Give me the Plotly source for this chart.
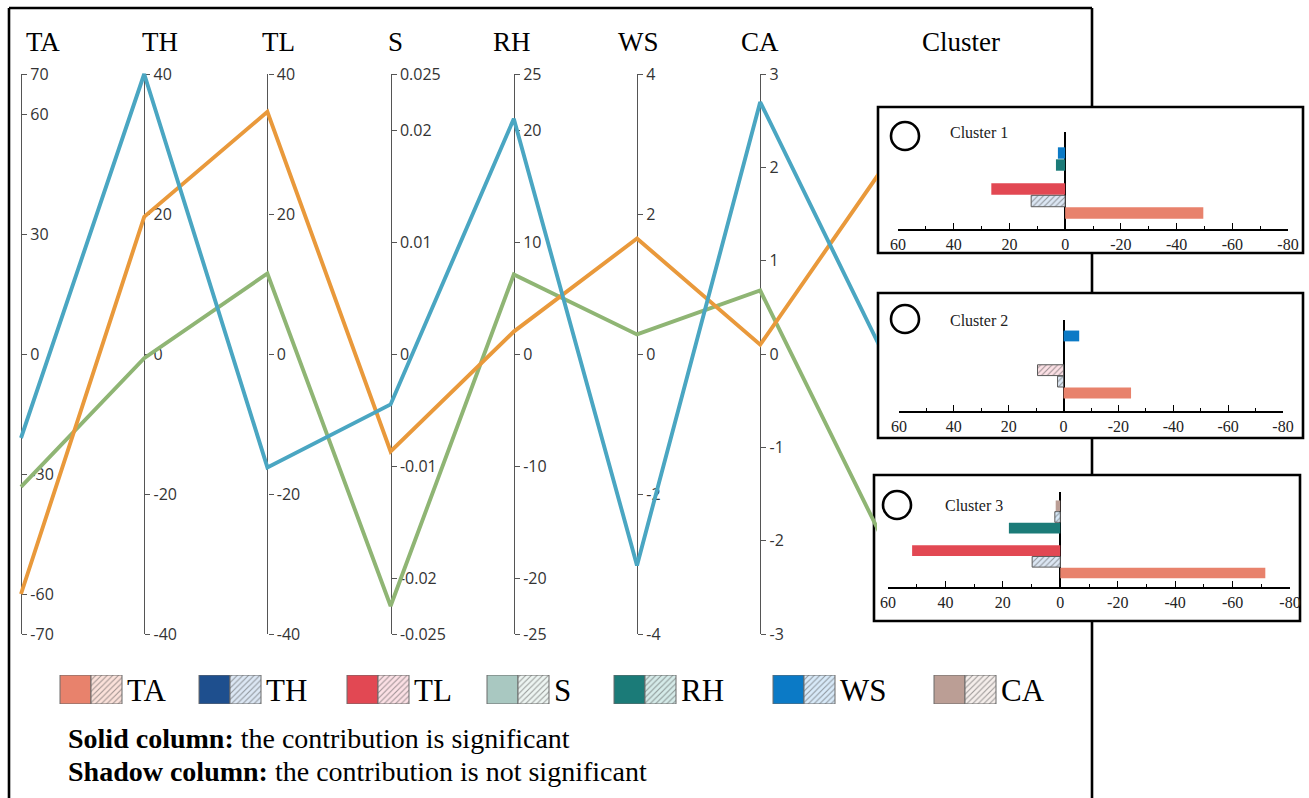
import plotly.graph_objects as go

W, H = 1309, 798

# ---------------- data ----------------
AXES = ["TA", "TH", "TL", "S", "RH", "WS", "CA"]
AXIS_MIN = [-70, -40, -40, -0.025, -25, -4, -3]
AXIS_MAX = [70, 40, 40, 0.025, 25, 4, 3]
AXIS_TICKS = [
    [-70, -60, -30, 0, 30, 60, 70],
    [-40, -20, 0, 20, 40],
    [-40, -20, 0, 20, 40],
    [-0.025, -0.02, -0.01, 0, 0.01, 0.02, 0.025],
    [-25, -20, -10, 0, 10, 20, 25],
    [-4, -2, 0, 2, 4],
    [-3, -2, -1, 0, 1, 2, 3],
]
CLUSTERS = ["Cluster 1", "Cluster 2", "Cluster 3"]
CLUSTER_CODE = [1, 2, 3]
CLUSTER_AXIS_BOTTOM, CLUSTER_AXIS_TOP = 3.5, 0.5   # hidden "Cluster" axis

PROFILE_C1 = [-60, 19.6, 34.6, -0.0087, 2.0, 1.65, 0.10]
PROFILE_C2 = [-21, 40, -16.2, -0.0045, 21.0, -3.02, 2.70]
PROFILE_C3 = [-33.2, -0.6, 11.5, -0.0225, 7.1, 0.28, 0.68]
LINE_COLORS = ["#E9993B", "#4AA6C2", "#8FB574"]

# contributions shown in the cluster insets (None = no bar)
CONTRIB_C1 = [-49.6, 12.2, 26.5, None, 3.3, 2.6, None]
SIG_C1 = [1, 0, 1, 0, 1, 1, 0]
CONTRIB_C2 = [-24.6, 2.2, 9.5, None, None, -5.7, None]
SIG_C2 = [1, 0, 0, 0, 0, 1, 0]
CONTRIB_C3 = [-71.4, 9.8, 51.6, None, 17.9, 1.9, 1.6]
SIG_C3 = [1, 0, 1, 0, 1, 0, 1]
INSET_TICKS = [60, 40, 20, 0, -20, -40, -60, -80]

SOLID = ["#E8826C", "#1E4F8E", "#E24853", "#A9C8C1", "#1B7B78", "#0B7AC6", "#BB9E95"]
HATCH_BG = ["#FBE1DA", "#DCE7F4", "#FCE0E5", "#EDF5F2", "#D5EBE9", "#D8EAF9", "#F5EEEB"]
HATCH_FG = ["#E29884", "#6E92C6", "#EA8E98", "#A3C6BD", "#68B0AC", "#6FADE0", "#C7B4AD"]

SIG_TEXT = "<b>Solid column:</b> the contribution is significant"
NS_TEXT = "<b>Shadow column:</b> the contribution is not significant"

# ---------------- layout geometry (pixels) ----------------
def px(x):
    return x / W


def py(y):
    return 1 - y / H


AX_X0, AX_DX = 21, 123.2          # first parallel axis, spacing
AX_TOP, AX_BOT = 74, 634          # axis extent
LINE_RIGHT = 877                  # lines vanish under the inset frames
SERIF = "Liberation Serif"
SANS = "Open Sans"

fig = go.Figure()

# base subplot (carries the parallel axes as overlays)
fig.add_trace(go.Scatter(x=[None], y=[None], xaxis="x", yaxis="y",
                         showlegend=False, hoverinfo="skip"))
for i in range(len(AXES)):
    fig.add_trace(go.Scatter(x=[None], y=[None], xaxis="x", yaxis=f"y{i + 2}",
                             showlegend=False, hoverinfo="skip"))

# --------------- parallel coordinate lines ---------------
def normalise(vals, cid):
    out = [(v - lo) / (hi - lo) for v, lo, hi in zip(vals, AXIS_MIN, AXIS_MAX)]
    out.append((cid - CLUSTER_AXIS_BOTTOM) / (CLUSTER_AXIS_TOP - CLUSTER_AXIS_BOTTOM))
    return out


profiles = [PROFILE_C1, PROFILE_C2, PROFILE_C3]
for k in [2, 0, 1]:
    fig.add_trace(go.Scatter(
        x=list(range(len(AXES) + 1)),
        y=normalise(profiles[k], CLUSTER_CODE[k]),
        mode="lines", line=dict(color=LINE_COLORS[k], width=3.9),
        xaxis="x2", yaxis="y9", showlegend=False, hoverinfo="skip"))

layout = dict(
    width=W, height=H,
    margin=dict(l=0, r=0, t=0, b=0, pad=0, autoexpand=False),
    paper_bgcolor="white", plot_bgcolor="rgba(0,0,0,0)",
    barmode="overlay", showlegend=False,
    xaxis=dict(domain=[px(AX_X0), px(LINE_RIGHT)], range=[0, 7], visible=False, fixedrange=True),
    yaxis=dict(domain=[py(AX_BOT), py(AX_TOP)], range=[0, 1], visible=False, fixedrange=True),
    xaxis2=dict(domain=[px(8), px(LINE_RIGHT)], anchor="y9",
                range=[(8 - AX_X0) / AX_DX, (LINE_RIGHT - AX_X0) / AX_DX],
                visible=False, fixedrange=True),
    yaxis9=dict(domain=[py(650), py(58)], anchor="x2",
                range=[-(650 - AX_BOT) / (AX_BOT - AX_TOP), 1 + (AX_TOP - 58) / (AX_BOT - AX_TOP)],
                visible=False, fixedrange=True),
)

for i, name in enumerate(AXES):
    layout[f"yaxis{i + 2}"] = dict(
        overlaying="y", anchor="free", position=px(AX_X0 + i * AX_DX), side="right",
        range=[AXIS_MIN[i], AXIS_MAX[i]], autorange=False, tickmode="array",
        tickvals=AXIS_TICKS[i], ticktext=[f"{v:g}" for v in AXIS_TICKS[i]],
        ticks="outside", ticklen=5, tickwidth=1.2, tickcolor="#555",
        showline=True, linecolor="#555", linewidth=1.3, visible=True,
        showgrid=False, zeroline=False, layer="below traces", fixedrange=True,
        automargin=False,
        tickfont=dict(family=SANS, size=16, color="#333"))

# --------------- cluster insets ---------------
INSET_BOX = [(878, 107, 1303, 253), (878, 293, 1303, 438), (874, 475, 1300, 621)]
INSET_X = [(898, 1288), (899, 1283), (888, 1290)]
INSET_Y = [(229, 132), (411, 320), (587, 492)]
INSET_YR = [(-1.33, 6.75), (-1.58, 6.4), (-1.25, 7.23)]
CIRCLE = [(905, 136), (905, 319), (897, 505)]
LABEL = [(948, 133), (948, 320), (943, 505)]
contribs = [CONTRIB_C1, CONTRIB_C2, CONTRIB_C3]
sigs = [SIG_C1, SIG_C2, SIG_C3]

HATCH = dict(shape="/", fgcolor=HATCH_FG, size=4, solidity=0.28, fillmode="overlay")

shapes = []
annotations = []

# main frame
for (x0, y0, x1, y1) in [(9, 8, 9, 800), (9, 8, 1092, 8), (1092, 8, 1092, 800)]:
    shapes.append(dict(type="line", xref="paper", yref="paper", layer="below",
                       x0=px(x0), y0=py(y0), x1=px(x1), y1=py(y1),
                       line=dict(color="black", width=2.6)))

for k in range(3):
    xa, ya = f"x{k + 3}", f"y{k + 10}"
    vals, sg = contribs[k], sigs[k]
    fig.add_trace(go.Bar(
        y=AXES, x=[v if s else None for v, s in zip(vals, sg)], orientation="h",
        width=0.95, marker=dict(color=SOLID, line=dict(width=0)),
        xaxis=xa, yaxis=ya, hoverinfo="skip"))
    fig.add_trace(go.Bar(
        y=AXES, x=[None if s else v for v, s in zip(vals, sg)], orientation="h",
        width=0.95,
        marker=dict(color=HATCH_BG, line=dict(width=1, color="#5a5a5a"), pattern=HATCH),
        xaxis=xa, yaxis=ya, hoverinfo="skip"))
    layout[f"xaxis{k + 3}"] = dict(
        domain=[px(INSET_X[k][0]), px(INSET_X[k][1])], anchor=ya, range=[60, -80],
        tickmode="array", tickvals=INSET_TICKS, ticktext=[f"{v:g}" for v in INSET_TICKS],
        ticks="inside", ticklen=6, tickwidth=1.3, tickcolor="black",
        minor=dict(tickmode="linear", tick0=0, dtick=10, ticks="inside", ticklen=3,
                   tickwidth=1.2, tickcolor="black"),
        showline=True, linecolor="black", linewidth=1.5, showgrid=False,
        zeroline=True, zerolinecolor="black", zerolinewidth=1.6, fixedrange=True,
        automargin=False,
        tickfont=dict(family=SERIF, size=16, color="#222"))
    layout[f"yaxis{k + 10}"] = dict(
        domain=[py(INSET_Y[k][0]), py(INSET_Y[k][1])], anchor=xa, type="category",
        categoryorder="array", categoryarray=AXES, range=list(INSET_YR[k]),
        visible=False, fixedrange=True)
    x0, y0, x1, y1 = INSET_BOX[k]
    shapes.append(dict(type="rect", xref="paper", yref="paper", layer="below",
                       x0=px(x0), y0=py(y0), x1=px(x1), y1=py(y1), fillcolor="white",
                       line=dict(color="black", width=2.6)))
    cx, cy = CIRCLE[k]
    shapes.append(dict(type="circle", xref="paper", yref="paper", layer="above",
                       x0=px(cx - 14), y0=py(cy + 14), x1=px(cx + 14), y1=py(cy - 14),
                       line=dict(color="black", width=2.6)))
    lx, ly = LABEL[k]
    annotations.append(dict(text=CLUSTERS[k], xref="paper", yref="paper", x=px(lx), y=py(ly),
                            xanchor="left", yanchor="middle", showarrow=False,
                            font=dict(family=SERIF, size=16, color="#222")))

# --------------- axis headers ---------------
HEAD_X = [43, 160, 278, 395, 512, 638, 760, 961]
for name, hx in zip(AXES + ["Cluster"], HEAD_X):
    annotations.append(dict(text=name, xref="paper", yref="paper", x=px(hx), y=py(42),
                            xanchor="center", yanchor="middle", showarrow=False,
                            font=dict(family=SERIF, size=27, color="black")))

# --------------- legend (solid / hatched swatches) ---------------
LEG_X = [60, 199, 347, 487, 614, 773, 934]
SW = 31
fig.add_trace(go.Bar(x=[lx + SW / 2 for lx in LEG_X], y=[1] * len(AXES), width=SW,
                     marker=dict(color=SOLID, line=dict(width=1, color="#6b6b6b")),
                     xaxis="x6", yaxis="y13", hoverinfo="skip"))
fig.add_trace(go.Bar(x=[lx + SW * 1.5 for lx in LEG_X], y=[1] * len(AXES), width=SW,
                     marker=dict(color=HATCH_BG, line=dict(width=1, color="#6b6b6b"),
                                 pattern=HATCH),
                     xaxis="x6", yaxis="y13", hoverinfo="skip"))
layout["xaxis6"] = dict(domain=[0, 1], range=[0, W], anchor="y13", visible=False, fixedrange=True)
layout["yaxis13"] = dict(domain=[py(704), py(675)], range=[0, 1], anchor="x6",
                         visible=False, fixedrange=True)
for name, lx in zip(AXES, LEG_X):
    annotations.append(dict(text=name, xref="paper", yref="paper", x=px(lx + 2 * SW + 3),
                            y=py(690), xanchor="left", yanchor="middle", showarrow=False,
                            font=dict(family=SERIF, size=31, color="black")))

annotations.append(dict(text=SIG_TEXT, xref="paper", yref="paper", x=px(66), y=py(738),
                        xanchor="left", yanchor="middle", showarrow=False,
                        font=dict(family=SERIF, size=28, color="black")))
annotations.append(dict(text=NS_TEXT, xref="paper", yref="paper", x=px(66), y=py(771),
                        xanchor="left", yanchor="middle", showarrow=False,
                        font=dict(family=SERIF, size=28, color="black")))

layout["shapes"] = shapes
layout["annotations"] = annotations
fig.update_layout(**layout)
fig.write_html("out.html", config={"displayModeBar": False},
               post_script="document.body.style.margin='0px';")
